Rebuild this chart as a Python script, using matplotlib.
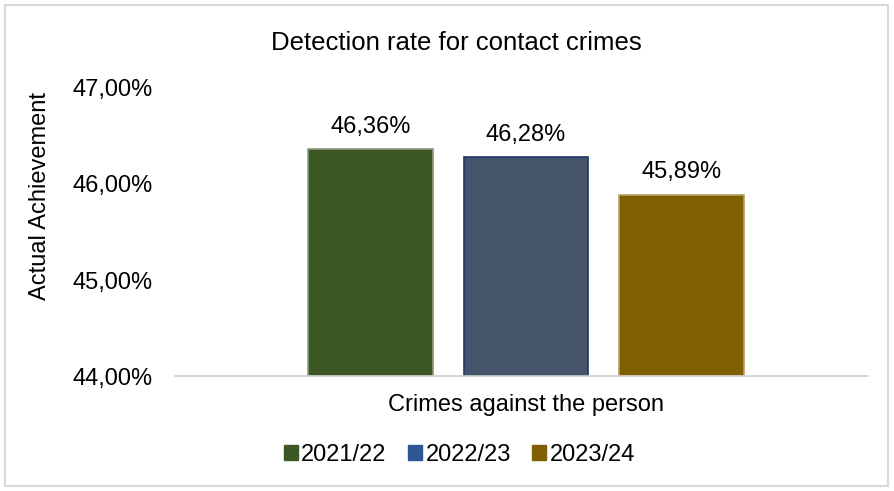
import matplotlib.pyplot as plt
from matplotlib.patches import Patch, Rectangle

plt.rcParams['font.family'] = ['Liberation Sans', 'DejaVu Sans']

category = 'Crimes against the person'
years = ['2021/22', '2022/23', '2023/24']
values = [46.36, 46.28, 45.89]
labels = ['46,36%', '46,28%', '45,89%']
yticks = [44, 45, 46, 47]
ytick_labels = ['44,00%', '45,00%', '46,00%', '47,00%']

fill = ['#3B5724', '#44546A', '#7F6000']
edge = ['#8A9A7A', '#1F3864', '#B8A060']
legend_fill = ['#3B5724', '#2F5597', '#7F6000']

fig = plt.figure(figsize=(8.94, 4.91), dpi=100)
ax = fig.add_axes([0.1957, 0.2342, 0.7753, 0.5866])

x = list(range(len(years)))
ax.bar(x, [v - 44 for v in values], bottom=44, width=0.8, color=fill,
       edgecolor=edge, linewidth=1.2, zorder=2)
for xi, v, lab in zip(x, values, labels):
    ax.annotate(lab, (xi, v), xytext=(0, 8), textcoords='offset points',
                ha='center', va='bottom', fontsize=17)

ax.set_xlim(-1.257, 3.2)
ax.set_ylim(44, 47)
ax.set_yticks(yticks)
ax.set_yticklabels(ytick_labels, fontsize=17)
ax.set_xticks([])
ax.tick_params(axis='y', length=0, pad=16)
for s in ['top', 'right', 'left']:
    ax.spines[s].set_visible(False)
ax.spines['bottom'].set_color('#D0D0D0')
ax.spines['bottom'].set_linewidth(1.2)

fig.text(0.511, 0.912, 'Detection rate for contact crimes', ha='center',
         va='center', fontsize=18.5)
fig.text(0.045, 0.6, 'Actual Achievement', rotation=90, ha='center',
         va='center', fontsize=17)
fig.text(0.588, 0.175, category, ha='center', va='center', fontsize=17)

handles = [Patch(facecolor=c, edgecolor=c, label=y)
           for c, y in zip(legend_fill, years)]
fig.legend(handles=handles, loc='center', bbox_to_anchor=(0.514, 0.073),
           ncol=3, frameon=False, fontsize=17, handlelength=0.6,
           handleheight=0.6, handletextpad=0.15, columnspacing=0.9)

fig.add_artist(Rectangle((5 / 894, 5 / 491), 883 / 894, 481 / 491,
                         transform=fig.transFigure, fill=False,
                         edgecolor='#D9D9D9', linewidth=1.5))

fig.savefig('out.png', dpi=100)
